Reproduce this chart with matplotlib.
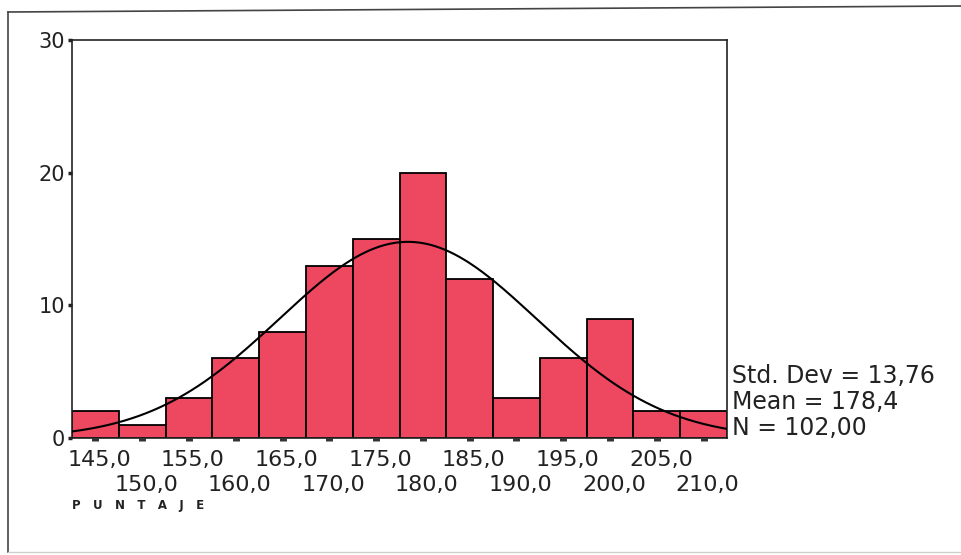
import numpy as np
import matplotlib
matplotlib.use("Agg")
import matplotlib.pyplot as plt
from matplotlib.lines import Line2D
import matplotlib.transforms as mtransforms

# Data
bin_centers = [145, 150, 155, 160, 165, 170, 175, 180, 185, 190, 195, 200, 205, 210]
counts = [2, 1, 3, 6, 8, 13, 15, 20, 12, 3, 6, 9, 2, 2]
tick_labels = ["145,0", "150,0", "155,0", "160,0", "165,0", "170,0", "175,0",
               "180,0", "185,0", "190,0", "195,0", "200,0", "205,0", "210,0"]
y_ticks = [0, 10, 20, 30]
std_dev = 13.76
mean = 178.4
n_total = 102
bin_width = 5
stats_lines = ["Std. Dev = 13,76", "Mean = 178,4", "N = 102,00"]
x_title = "P   U   N   T   A   J   E"

plt.rcParams['font.family'] = ['DejaVu Sans']

W, H = 962, 555
fig = plt.figure(figsize=(W / 100, H / 100), dpi=100)
fig.patch.set_facecolor("white")

# Outer frame
fig.add_artist(Line2D([8 / W, 8 / W], [1 - 552 / H, 1 - 12 / H], transform=fig.transFigure,
                      color="#444444", lw=1.2))
fig.add_artist(Line2D([8 / W, 1.0], [1 - 12 / H, 1 - 6 / H], transform=fig.transFigure,
                      color="#444444", lw=1.2))
fig.add_artist(Line2D([8 / W, 1.0], [1 - 552 / H, 1 - 552 / H], transform=fig.transFigure,
                      color="#c8d0c8", lw=1.0))

left, right, top, bottom = 72, 727, 40, 438
ax = fig.add_axes([left / W, 1 - bottom / H, (right - left) / W, (bottom - top) / H])

ax.bar(bin_centers, counts, width=bin_width, color="#EE4760", edgecolor="black",
       linewidth=1.3, align="center", zorder=2)

xmin = bin_centers[0] - bin_width / 2
xmax = bin_centers[-1] + bin_width / 2
xs = np.linspace(xmin, xmax, 400)
ys = n_total * bin_width / (std_dev * np.sqrt(2 * np.pi)) * np.exp(-0.5 * ((xs - mean) / std_dev) ** 2)
ax.plot(xs, ys, color="black", lw=1.5, zorder=3)

ax.set_xlim(xmin, xmax)
ax.set_ylim(0, 30)

for s in ax.spines.values():
    s.set_linewidth(1.2)
    s.set_color("#222222")

ax.set_xticks(bin_centers)
ax.set_xticklabels([""] * len(bin_centers))
ax.tick_params(axis="x", length=2, width=5, pad=4, color="#333333", direction="out")
ax.set_yticks(y_ticks)
ax.set_yticklabels([str(v) for v in y_ticks], fontsize=15, color="#222222")
ax.tick_params(axis="y", length=3, width=2.5, pad=2, color="#222222", direction="out")

# Staggered x tick labels
blend = mtransforms.blended_transform_factory(ax.transData, ax.transAxes)
for i, (xc, lab) in enumerate(zip(bin_centers, tick_labels)):
    dy_px = -12 if i % 2 == 0 else -37
    tr = mtransforms.offset_copy(blend, fig=fig, x=4, y=dy_px, units="dots")
    ax.text(xc, 0, lab, transform=tr, ha="center", va="top", fontsize=16,
            color="#222222", clip_on=False)

fig.text(72 / W, 1 - 505 / H, x_title, fontsize=8.5, fontweight="bold",
         va="center", ha="left", color="#222222")

for i, line in enumerate(stats_lines):
    fig.text(732 / W, 1 - (383 + 26 * i) / H, line, fontsize=17, va="baseline",
             ha="left", color="#222222")

fig.savefig("out.png", dpi=100, facecolor="white")
